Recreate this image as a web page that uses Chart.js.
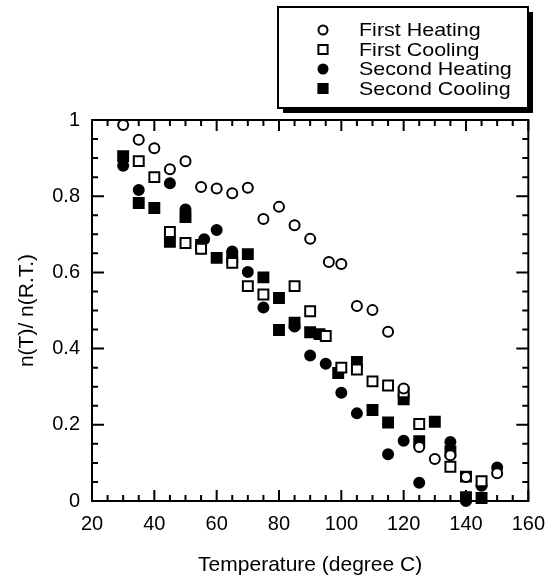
<!DOCTYPE html>
<html><head><meta charset="utf-8">
<script src="https://cdn.jsdelivr.net/npm/chart.js@4.4.1/dist/chart.umd.min.js"></script>
<style>html,body{margin:0;padding:0;background:#fff}#wrap{width:556px;height:579px}</style>
</head><body><div id="wrap"><canvas id="c" width="556" height="579"></canvas></div>
<script>
const seriesNames = ['First Heating', 'First Cooling', 'Second Heating', 'Second Cooling'];

const firstHeatingT = [30, 35, 40, 45, 50, 55, 60, 65, 70, 75, 80, 85, 90, 96, 100, 105, 110, 115, 120, 125, 130, 135, 140, 150];
const firstHeatingV = [0.987, 0.948, 0.926, 0.871, 0.892, 0.824, 0.82, 0.808, 0.822, 0.74, 0.772, 0.724, 0.688, 0.627, 0.622, 0.512, 0.501, 0.444, 0.295, 0.142, 0.11, 0.12, 0.063, 0.073];

const firstCoolingT = [35, 40, 45, 50, 55, 65, 70, 75, 85, 90, 95, 100, 105, 110, 115, 120, 125, 135, 140, 145];
const firstCoolingV = [0.892, 0.85, 0.706, 0.677, 0.662, 0.625, 0.564, 0.542, 0.564, 0.498, 0.433, 0.35, 0.345, 0.314, 0.303, 0.285, 0.202, 0.09, 0.064, 0.052];

const secondHeatingT = [30, 35, 45, 50, 56, 60, 65, 70, 75, 85, 90, 95, 100, 105, 115, 120, 125, 135, 140, 145, 150];
const secondHeatingV = [0.88, 0.816, 0.834, 0.765, 0.687, 0.711, 0.655, 0.601, 0.508, 0.458, 0.382, 0.36, 0.284, 0.23, 0.123, 0.158, 0.048, 0.155, 0.0, 0.04, 0.088];

const secondCoolingT = [30, 35, 40, 45, 50, 55, 60, 65, 70, 75, 80, 80, 85, 90, 93, 99, 105, 110, 115, 120, 125, 130, 135, 140, 145];
const secondCoolingV = [0.905, 0.782, 0.769, 0.68, 0.745, 0.672, 0.638, 0.64, 0.648, 0.587, 0.533, 0.449, 0.468, 0.443, 0.438, 0.336, 0.365, 0.239, 0.206, 0.267, 0.157, 0.208, 0.13, 0.01, 0.008];

const xTickLabels = [20, 40, 60, 80, 100, 120, 140, 160];
const yTickLabels = [0, 0.2, 0.4, 0.6, 0.8, 1];

const FONT = "'Liberation Sans', Arial, Helvetica, sans-serif";

function pts(t, v) { return t.map((x, i) => ({ x: x, y: v[i] })); }

const framePlugin = {
  id: 'frameTicks',
  beforeDatasetsDraw(chart) {
    const { ctx, chartArea: a, scales: { x, y } } = chart;
    ctx.save();
    ctx.strokeStyle = '#000';
    ctx.lineWidth = 2;
    ctx.strokeRect(a.left, a.top, a.right - a.left, a.bottom - a.top);
    ctx.beginPath();
    for (let i = 0; i <= 28; i++) {
      const px = x.getPixelForValue(20 + i * 5);
      const len = i % 4 === 0 ? 11 : 6;
      ctx.moveTo(px, a.bottom); ctx.lineTo(px, a.bottom - len);
      ctx.moveTo(px, a.top); ctx.lineTo(px, a.top + len);
    }
    for (let i = 0; i <= 20; i++) {
      const py = y.getPixelForValue(i * 0.05);
      const len = i % 4 === 0 ? 12 : 6;
      ctx.moveTo(a.left, py); ctx.lineTo(a.left + len, py);
      ctx.moveTo(a.right, py); ctx.lineTo(a.right - len, py);
    }
    ctx.stroke();
    ctx.restore();
  }
};

const legendPlugin = {
  id: 'boxLegend',
  afterDraw(chart) {
    const ctx = chart.ctx;
    const L = 278, T = 7, W = 250, H = 101, S = 5;
    ctx.save();
    ctx.fillStyle = '#000';
    ctx.fillRect(L + S, T + S, W, H);
    ctx.fillStyle = '#fff';
    ctx.fillRect(L, T, W, H);
    ctx.strokeStyle = '#000';
    ctx.lineWidth = 2;
    ctx.strokeRect(L, T, W, H);
    chart.data.datasets.forEach((ds, i) => {
      const cy = 30 + i * 19.5;
      ctx.fillStyle = ds.backgroundColor;
      ctx.strokeStyle = '#000';
      ctx.lineWidth = 2;
      Chart.helpers.drawPoint(ctx, {
        pointStyle: ds.pointStyle,
        radius: ds.pointStyle === 'rect' ? 6.5 : 4.5,
        borderWidth: 2,
        rotation: 0
      }, 323, cy);
      ctx.save();
      ctx.fillStyle = '#000';
      ctx.font = '19px ' + FONT;
      ctx.textBaseline = 'middle';
      ctx.textAlign = 'left';
      ctx.translate(359, cy + 1);
      ctx.scale(1.13, 1);
      ctx.fillText(ds.label, 0, 0);
      ctx.restore();
    });
    ctx.restore();
  }
};

function mk(label, t, v, style, fill) {
  return {
    label: label,
    data: pts(t, v),
    pointStyle: style,
    pointRadius: style === 'rect' ? 7 : 5,
    pointHoverRadius: style === 'rect' ? 7 : 5,
    borderWidth: 2,
    pointBorderWidth: 2,
    borderColor: '#000',
    pointBorderColor: '#000',
    backgroundColor: fill,
    pointBackgroundColor: fill,
    showLine: false,
    clip: false
  };
}

new Chart(document.getElementById('c'), {
  type: 'scatter',
  data: {
    datasets: [
      mk(seriesNames[0], firstHeatingT, firstHeatingV, 'circle', '#fff'),
      mk(seriesNames[1], firstCoolingT, firstCoolingV, 'rect', '#fff'),
      mk(seriesNames[2], secondHeatingT, secondHeatingV, 'circle', '#000'),
      mk(seriesNames[3], secondCoolingT, secondCoolingV, 'rect', '#000')
    ]
  },
  options: {
    responsive: false,
    devicePixelRatio: 1,
    animation: false,
    events: [],
    layout: { padding: { left: 0, right: 19, top: 120, bottom: 0 } },
    plugins: { legend: { display: false }, tooltip: { enabled: false }, title: { display: false } },
    scales: {
      x: {
        type: 'linear', position: 'bottom', min: 20, max: 160,
        grid: { display: false, drawTicks: false },
        border: { display: false },
        afterBuildTicks: s => { s.ticks = xTickLabels.map(v => ({ value: v })); },
        afterFit: s => { s.height = 78; },
        ticks: { color: '#000', font: { family: FONT, size: 20 }, padding: 11, maxRotation: 0, autoSkip: false, callback: v => String(v) },
        title: { display: true, text: 'Temperature (degree C)', color: '#000', font: { family: FONT, size: 21 }, padding: { top: 0, bottom: 1 } }
      },
      y: {
        type: 'linear', position: 'left', min: 0, max: 1,
        grid: { display: false, drawTicks: false },
        border: { display: false },
        afterBuildTicks: s => { s.ticks = yTickLabels.map(v => ({ value: v })); },
        afterFit: s => { s.width = 92; },
        ticks: { color: '#000', font: { family: FONT, size: 20 }, padding: 12, autoSkip: false, callback: v => String(v) },
        title: { display: true, text: 'n(T)/ n(R.T.)', color: '#000', font: { family: FONT, size: 21 }, padding: { top: 15, bottom: 0 } }
      }
    }
  },
  plugins: [framePlugin, legendPlugin]
});
</script>
</body></html>
